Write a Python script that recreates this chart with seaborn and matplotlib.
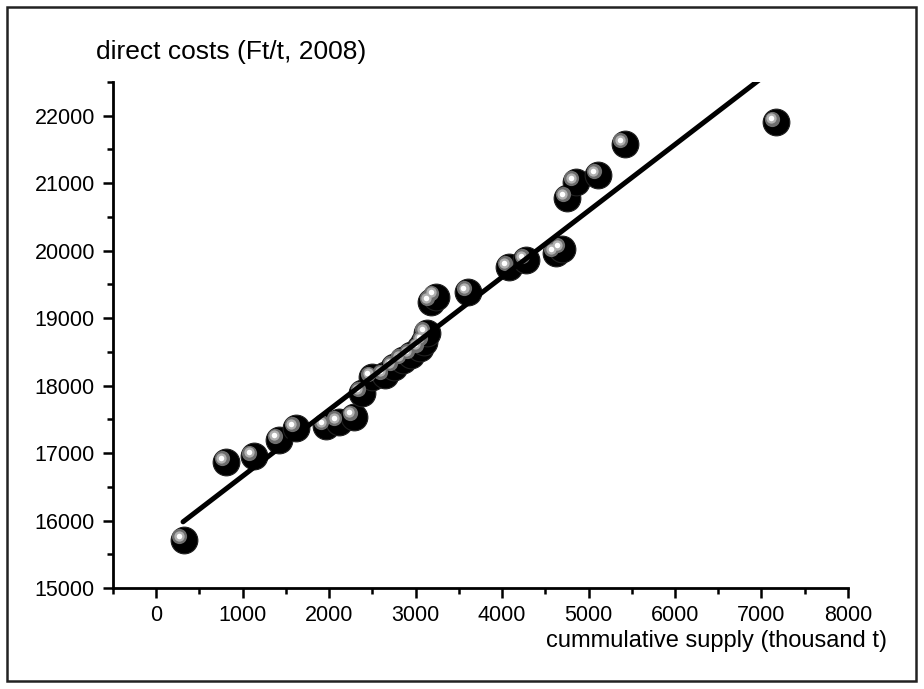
import matplotlib
matplotlib.use("Agg")
import matplotlib.pyplot as plt
import matplotlib.transforms as mtransforms
from matplotlib.patches import Rectangle
from matplotlib.ticker import MultipleLocator
import matplotlib.font_manager as fm
import seaborn as sns
import pandas as pd

# data
supply = [320, 810, 1130, 1420, 1620, 1960, 2110, 2290, 2380, 2500, 2640, 2750,
          2850, 2950, 3050, 3100, 3130, 3180, 3230, 3610, 4080, 4280, 4620, 4690,
          4750, 4850, 5110, 5420, 7170]
costs = [15710, 16870, 16950, 17200, 17370, 17400, 17460, 17540, 17890, 18120,
         18150, 18280, 18380, 18450, 18550, 18650, 18780, 19240, 19320, 19390,
         19760, 19860, 19960, 20020, 20780, 21020, 21120, 21580, 21900]

# linear trend line (intercept, slope) and its x range
fit_intercept = 15676
fit_slope = 0.983
fit_x = [310, 7170]

df = pd.DataFrame({'supply': supply, 'costs': costs})
trend = pd.DataFrame({'supply': fit_x})
trend['costs'] = fit_intercept + fit_slope * trend['supply']

sns.set_style("white")
names = {f.name for f in fm.fontManager.ttflist}
narrow = 'Liberation Sans Narrow' if 'Liberation Sans Narrow' in names else 'Liberation Sans'
plt.rcParams['font.family'] = ['Liberation Sans', 'DejaVu Sans']
plt.rcParams['text.color'] = 'black'
plt.rcParams['xtick.color'] = 'black'
plt.rcParams['ytick.color'] = 'black'

fig = plt.figure(figsize=(9.24, 6.89), dpi=100)
ax = fig.add_axes([0.1223, 0.1466, 0.7954, 0.7344])

# spheres: black ball + grey/white highlight shifted up-left
sns.scatterplot(data=df, x='supply', y='costs', ax=ax, s=370, color='black',
                edgecolor='#202020', linewidth=0.8, zorder=3)
for size, col, dx, dy in [(120, '#6e6e6e', -3.2, 2.8), (55, '#b0b0b0', -3.5, 3.0),
                          (16, 'white', -3.6, 3.1)]:
    tr = mtransforms.offset_copy(ax.transData, fig=fig, x=dx, y=dy, units='points')
    sns.scatterplot(data=df, x='supply', y='costs', ax=ax, s=size, color=col,
                    linewidth=0, transform=tr, zorder=4)

sns.lineplot(data=trend, x='supply', y='costs', ax=ax, color='black',
             linewidth=3.6, zorder=5)

ax.set_xlim(-500, 8000)
ax.set_ylim(15000, 22500)
ax.xaxis.set_major_locator(MultipleLocator(1000))
ax.xaxis.set_minor_locator(MultipleLocator(500))
ax.yaxis.set_major_locator(MultipleLocator(1000))
ax.yaxis.set_minor_locator(MultipleLocator(500))
ax.tick_params(which='major', direction='out', length=7, width=1.8, color='black',
               bottom=True, left=True)
ax.tick_params(which='minor', direction='out', length=4, width=1.8, color='black',
               bottom=True, left=True)
ax.tick_params(axis='y', labelsize=15.5, pad=6, labelcolor='black')
ax.tick_params(axis='x', labelsize=15.5, pad=5, labelcolor='black')
for lab in ax.get_xticklabels():
    lab.set_family(narrow)

sns.despine(ax=ax)
for side in ('left', 'bottom'):
    ax.spines[side].set_linewidth(2)
    ax.spines[side].set_color('black')

ax.set_xlabel('')
ax.set_ylabel('')
fig.text(96 / 924, 1 - 52 / 689, 'direct costs (Ft/t, 2008)', fontsize=19,
         ha='left', va='center', color='black')
fig.text(887 / 924, 1 - 641 / 689, 'cummulative supply (thousand t)', fontsize=17,
         ha='right', va='center', family=narrow, color='black')

# outer frame
fig.patches.append(Rectangle((7 / 924, 8 / 689), 909 / 924, 674 / 689,
                             transform=fig.transFigure, fill=False,
                             edgecolor='#222222', linewidth=1.8))

fig.savefig('out.png', dpi=100)
